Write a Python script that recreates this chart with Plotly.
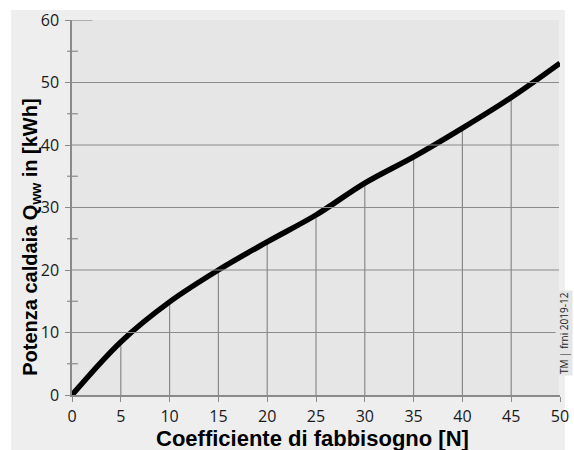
import plotly.graph_objects as go

# Demand coefficient N and boiler output Qww [kWh]
coeff_n = [0, 5, 10, 15, 20, 25, 30, 35, 40, 45, 50]
boiler_kwh = [0, 8.5, 14.9, 20.0, 24.5, 28.8, 33.9, 38.1, 42.7, 47.6, 53.1]

x_ticks = [0, 5, 10, 15, 20, 25, 30, 35, 40, 45, 50]
y_ticks = [0, 10, 20, 30, 40, 50, 60]
y_grid = [10, 20, 30, 40, 50]
y_minor = [5, 15, 25, 35, 45, 55]

GRID = "#8a8a8a"
PANEL = "#eeeeee"
PLOT_BG = "#e6e6e6"

# plot-area size in pixels, used to express small offsets in paper units
L, R, T, B = 72, 5, 20, 55
W, H = 574, 450
pw, ph = W - L - R, H - T - B

fig = go.Figure()

# vertical drop lines from the x axis up to the curve (interior points only)
drop_x, drop_y = [], []
for xv, yv in zip(coeff_n[1:-1], boiler_kwh[1:-1]):
    drop_x += [xv, xv, None]
    drop_y += [0, yv, None]
fig.add_trace(go.Scatter(x=drop_x, y=drop_y, mode="lines",
                         line=dict(color=GRID, width=1.2),
                         hoverinfo="skip", showlegend=False))

fig.add_trace(go.Scatter(x=coeff_n, y=boiler_kwh, mode="lines",
                         line=dict(color="black", width=5.5, shape="spline", smoothing=1.0),
                         cliponaxis=False, showlegend=False))

shapes = [
    # outer grey panel
    dict(type="rect", xref="paper", yref="paper", layer="below",
         x0=(10 - L) / pw, x1=(W - L) / pw, y0=-(H - T - ph) / ph, y1=1 + (T - 10) / ph,
         fillcolor=PANEL, line=dict(width=0)),
    # plot area
    dict(type="rect", xref="paper", yref="paper", layer="below",
         x0=0, x1=1 - 1 / pw, y0=0, y1=1, fillcolor=PLOT_BG, line=dict(width=0)),
]
for g in y_grid:
    shapes.append(dict(type="line", xref="paper", yref="y", x0=0, x1=1 - 1 / pw, y0=g, y1=g,
                       line=dict(color=GRID, width=1.2)))
for m in y_minor:
    shapes.append(dict(type="line", xref="paper", yref="y", x0=-5 / pw, x1=6 / pw, y0=m, y1=m,
                       line=dict(color=GRID, width=1.2)))
# short stub at the top of the value axis
shapes.append(dict(type="line", xref="paper", yref="y", x0=-5 / pw, x1=21 / pw,
                   y0=y_ticks[-1], y1=y_ticks[-1], line=dict(color=GRID, width=1.2)))

tick_font = dict(family="Open Sans, sans-serif", size=16, color="#1a1a1a")
title_font = dict(family="Liberation Sans, Arial, sans-serif", size=22, color="black")

fig.update_layout(
    width=W, height=H,
    margin=dict(l=L, r=R, t=T, b=B),
    paper_bgcolor="white",
    plot_bgcolor=PLOT_BG,
    shapes=shapes,
    xaxis=dict(range=[0, 50], tickvals=x_ticks, ticks="outside", ticklen=5, tickwidth=1.2,
               tickcolor=GRID, showgrid=False, zeroline=False, showline=True,
               linecolor=GRID, linewidth=2.2, tickfont=tick_font, ticklabelstandoff=1,
               ticklabeloverflow="allow"),
    yaxis=dict(range=[0, 60], tickvals=y_ticks, ticks="outside", ticklen=5, tickwidth=1.2,
               tickcolor=GRID, showgrid=False, zeroline=False, showline=True,
               linecolor=GRID, linewidth=1.5, tickfont=tick_font, ticklabelstandoff=3,
               ticklabeloverflow="allow"),
    annotations=[
        dict(text="<b>Coefficiente di fabbisogno [N]</b>", xref="paper", yref="paper",
             x=(317 - L) / pw, y=-(438 - (T + ph)) / ph, xanchor="center", yanchor="middle",
             showarrow=False, font=title_font),
        dict(text="<b>Potenza caldaia Q<sub>ww</sub> in [kWh]</b>", xref="paper", yref="paper",
             x=(30 - L) / pw, y=(T + ph - 237) / ph, xanchor="center", yanchor="middle",
             textangle=-90, showarrow=False, font=dict(title_font, size=20)),
        dict(text="TM | frni 2019-12", xref="paper", yref="paper",
             x=(566 - L) / pw, y=(T + ph - 333) / ph, xanchor="center", yanchor="middle",
             xshift=7, textangle=-90, showarrow=False,
             font=dict(family="Open Sans, sans-serif", size=10, color="#222222"),
             bgcolor=PLOT_BG),
    ],
)

fig.write_html("out.html")
